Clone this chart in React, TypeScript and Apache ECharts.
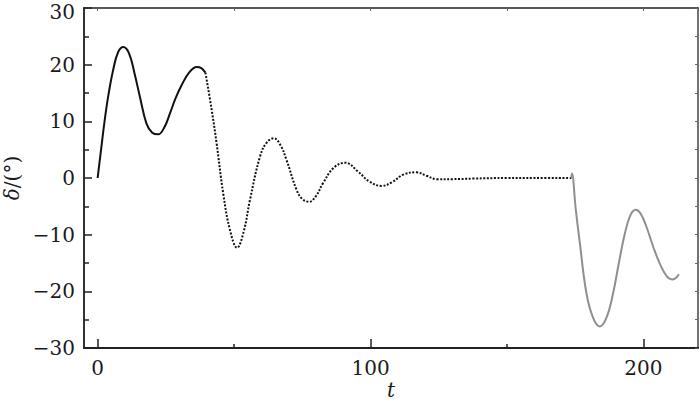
import React, { useEffect, useRef } from "react";
import * as echarts from "echarts";

const solidBlack: [number, number][] = [
  [0, 0], [1, 4], [2.7, 10.6], [4, 14.8], [5.7, 19.1], [7.5, 22.2], [9.4, 23.1],
  [11.5, 22], [13.5, 18.5], [15.5, 14.3], [17.9, 9.6], [20, 8], [22.2, 7.7],
  [24.5, 9], [26.5, 11.4], [28.5, 14], [30.8, 16.4], [33.5, 18.6], [36.3, 19.6],
  [38, 19.4], [39.5, 18.6],
];

const dottedBlack: [number, number][] = [
  [39.5, 18.6], [41.8, 12.0], [43.6, 6.1], [46, -2.7], [48.5, -9.2], [51.1, -12.3],
  [53.5, -9.5], [55.8, -3.9], [59.5, 3.8], [62, 6.3], [64.6, 7.0], [67, 5.8],
  [69.2, 3.2], [72.9, -2.1], [75, -3.7], [77.5, -4.2], [80, -3.2], [82.6, -0.9],
  [86.5, 1.8], [90.7, 2.7], [95.5, 1.1], [99.5, -0.6], [104, -1.4], [108, -0.7],
  [112, 0.6], [116.8, 1.0], [120.5, 0.4], [124.2, -0.2], [130, -0.2], [137.6, -0.1],
  [150, 0], [160, 0], [173.6, 0],
];

const grayLine: [number, number][] = [
  [173.6, 0], [173.8, 0.8], [175.2, -5.5], [176.7, -11.5], [179.1, -20.3],
  [181.5, -24.6], [184, -26.2], [186.5, -24.6], [188.9, -20.3], [191, -15],
  [193.2, -9.8], [195.2, -6.6], [197.2, -5.6], [199, -6.3], [201.1, -8.6],
  [203.5, -12], [206, -15.1], [208.5, -17.3], [210.8, -17.9], [212, -17.6],
  [213, -17.0],
];

const xMajorTicks = [0, 100, 200];
const xMinorTicks = [50, 150];
const yTicks = [-30, -20, -10, 0, 10, 20, 30];

const FONT = "'DejaVu Serif', 'Liberation Serif', serif";
const INK = "#1a1a1a";

export default function App() {
  const ref = useRef<HTMLDivElement>(null);
  useEffect(() => {
    if (!ref.current) return;
    const chart = echarts.init(ref.current, null, { renderer: "svg" });
    const fmt = (v: number) => {
      if (v === 30) return "{top|30}";
      return v < 0 ? "\u2212" + Math.abs(v) : String(v);
    };
    chart.setOption({
      animation: false,
      backgroundColor: "#fff",
      grid: { left: 84, top: 8, right: 2, bottom: 53, containLabel: false, outerBoundsMode: "none" },
      xAxis: [
        {
          type: "value", min: -5, max: 220, position: "bottom",
          name: "t", nameLocation: "middle", nameGap: 33, nameMoveOverlap: false,
          nameTextStyle: { fontFamily: FONT, fontSize: 20, fontStyle: "italic", color: INK, lineHeight: 18 },
          axisLine: { show: true, onZero: false, lineStyle: { color: "#222", width: 2 } },
          axisTick: { show: true, inside: true, length: 9, customValues: xMajorTicks, lineStyle: { color: "#222", width: 1.5 } },
          axisLabel: { customValues: xMajorTicks, fontFamily: FONT, fontSize: 20, color: INK, margin: 10 },
          splitLine: { show: false },
        },
        {
          type: "value", min: -5, max: 220, position: "bottom",
          axisLine: { show: false, onZero: false },
          axisTick: { show: true, inside: true, length: 4, customValues: xMinorTicks, lineStyle: { color: "#222", width: 1.5 } },
          axisLabel: { show: false },
          splitLine: { show: false },
        },
        {
          type: "value", min: -5, max: 220, position: "top",
          axisLine: { show: true, onZero: false, lineStyle: { color: "#222", width: 1.5 } },
          axisTick: { show: true, inside: true, length: 3, customValues: xMajorTicks.concat(xMinorTicks), lineStyle: { color: "#666", width: 1 } },
          axisLabel: { show: false },
          splitLine: { show: false },
        },
      ],
      yAxis: [
        {
          type: "value", min: -30, max: 30, interval: 10, position: "left",
          name: "{i|δ}/(°)", nameLocation: "middle", nameGap: 62, nameRotate: 90,
          nameTextStyle: {
            fontFamily: FONT, fontSize: 20, color: INK,
            rich: { i: { fontFamily: FONT, fontSize: 20, fontStyle: "italic", color: INK } },
          },
          axisLine: { show: true, onZero: false, lineStyle: { color: "#333", width: 2 } },
          axisTick: { show: true, inside: true, length: 8, lineStyle: { color: "#222", width: 1.5 } },
          minorTick: { show: true, splitNumber: 2, length: 5, lineStyle: { color: "#222", width: 1.5 } },
          axisLabel: {
            formatter: fmt, fontFamily: FONT, fontSize: 20, color: INK, margin: 9, customValues: yTicks,
            rich: { top: { fontFamily: FONT, fontSize: 20, color: INK, padding: [7, 0, 0, 0] } },
          },
          splitLine: { show: false },
          minorSplitLine: { show: false },
        },
        {
          type: "value", min: -30, max: 30, interval: 10, position: "right",
          axisLine: { show: true, onZero: false, lineStyle: { color: "#444", width: 1.5 } },
          axisTick: { show: true, inside: true, length: 3, lineStyle: { color: "#666", width: 1 } },
          minorTick: { show: true, splitNumber: 2, length: 3, lineStyle: { color: "#666", width: 1 } },
          axisLabel: { show: false },
          splitLine: { show: false },
        },
      ],
      series: [
        {
          type: "line", data: solidBlack, smooth: 0.4, symbol: "none",
          lineStyle: { color: "#111", width: 2 },
        },
        {
          type: "line", data: dottedBlack, smooth: 0.4, symbol: "none",
          lineStyle: { color: "#111", width: 2, type: [2, 1.6] },
        },
        {
          type: "line", data: grayLine, smooth: 0.4, symbol: "none",
          lineStyle: { color: "#8f8f8f", width: 2 },
        },
      ],
    });
    return () => chart.dispose();
  }, []);
  return <div ref={ref} style={{ width: 700, height: 401, position: "absolute", left: 0, top: 0 }} />;
}
